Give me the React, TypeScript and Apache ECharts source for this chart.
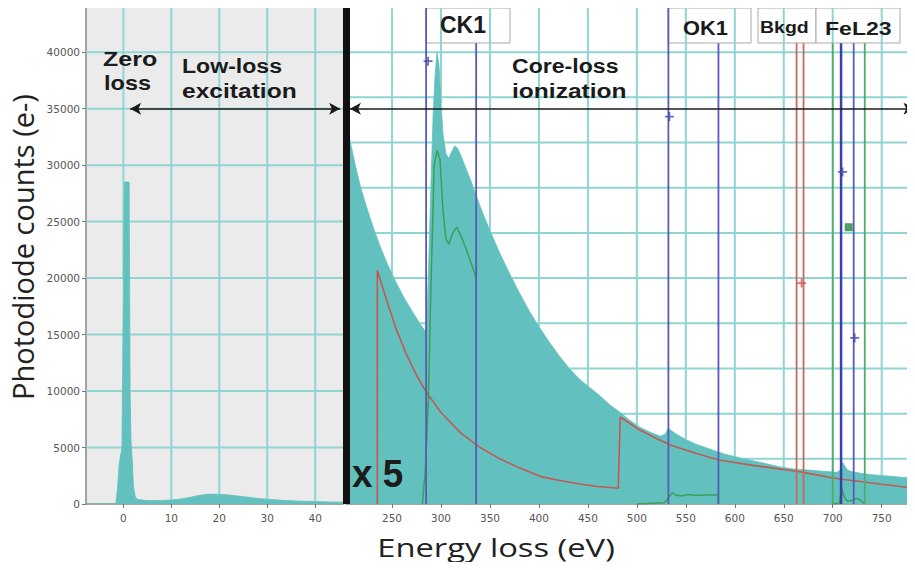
import React, { useEffect, useRef } from "react";
import * as echarts from "echarts";

// ---------------- data ----------------
const LOW_LOSS_EV = [-7.8, -1.6, -1.2, -0.9, -0.3, 0.0, 0.2, 1.2, 1.4, 1.6, 1.9, 2.1, 2.5, 3.0, 5, 8, 10, 12, 14, 16, 18, 20, 22, 24, 27, 30, 33, 36, 40, 43, 45.8];
const LOW_LOSS_COUNTS = [0, 0, 1500, 3500, 5000, 20000, 28500, 28500, 10000, 5500, 3500, 1500, 600, 400, 300, 320, 350, 450, 600, 780, 880, 860, 800, 700, 550, 420, 330, 270, 220, 180, 160];

const CORE_EV = [203, 208, 213, 218, 224, 230, 237, 245, 253, 262, 271, 279, 284, 286, 288, 290, 292, 294, 296, 298, 300, 302, 305, 308, 311, 314, 317, 321, 326, 331, 336, 342, 350, 360, 370, 380, 390, 400, 410, 420, 431, 442, 452, 462, 472, 483, 493, 503, 515, 524, 529, 532, 535, 540, 550, 560, 570, 580, 590, 600, 615, 630, 645, 660, 675, 690, 704, 708, 710, 712, 715, 720, 730, 745, 760, 772, 784];
const CORE_COUNTS = [33800, 31800, 29800, 28000, 26300, 24700, 23000, 21300, 19800, 18300, 17000, 15900, 15300, 17500, 23000, 29000, 34500, 38000, 40000, 38800, 35500, 32800, 31000, 30600, 31200, 31700, 31500, 30700, 29600, 28500, 27300, 25900, 24200, 22200, 20400, 18700, 17100, 15700, 14400, 13200, 12000, 11000, 10300, 9600, 8800, 8100, 7400, 6800, 6300, 6000, 6200, 6700, 6500, 6200, 5700, 5300, 5000, 4700, 4400, 4200, 3900, 3600, 3300, 3100, 3000, 2900, 2800, 3000, 3700, 3400, 3000, 2850, 2700, 2550, 2450, 2350, 2300];

const BKGD_EV = [235, 235, 245, 255, 265, 275, 285, 300, 320, 340, 360, 380, 403, 420, 440, 460, 481, 483, 503, 520, 535, 560, 584, 620, 663, 670, 700, 718, 750, 784];
const BKGD_COUNTS = [0, 20700, 17900, 15300, 13200, 11400, 9900, 8100, 6300, 5000, 4000, 3200, 2400, 2100, 1800, 1550, 1400, 7700, 6550, 5800, 5200, 4500, 3900, 3400, 2900, 2800, 2300, 2100, 1750, 1400];

const CK_SIGNAL_EV = [281, 284, 287, 290, 293, 296, 299, 302, 305, 308, 312, 316, 320, 326, 332, 336, 336];
const CK_SIGNAL_COUNTS = [0, 3000, 9000, 20000, 30000, 31300, 30500, 26000, 23500, 23000, 24000, 24500, 23800, 22500, 21000, 20000, 0];

const OK_SIGNAL_EV = [500, 528, 531, 536, 540, 545, 552, 560, 570, 583, 583.3];
const OK_SIGNAL_COUNTS = [0, 100, 400, 1000, 800, 700, 850, 750, 800, 800, 0];

const FE_SIGNAL_EV = [700, 707, 709, 711, 714, 718, 724, 728, 732.7];
const FE_SIGNAL_COUNTS = [0, 100, 1500, 800, 300, 250, 500, 350, 0];

// integration windows (eV), their top value and colour family
const WINDOW_EV = [284.8, 335.9, 532.2, 583.3, 663.1, 670.2, 700, 708.5, 721.4, 732.7];
const WINDOW_TOP = [44000, 40800, 44000, 40800, 40800, 40800, 40800, 40800, 40800, 40800];
const WINDOW_KIND = ["blue", "blue", "blue", "blue", "red", "red", "green", "navy", "blue", "green"];

const BLUE_MARK_EV = [286.8, 533.2, 710, 722.4];
const BLUE_MARK_COUNTS = [39200, 34300, 29400, 14700];
const RED_MARK_EV = [668.2];
const RED_MARK_COUNTS = [19560];
const GREEN_MARK_EV = [716.3];
const GREEN_MARK_COUNTS = [24500];

// grid (tick) values of both panels
const LEFT_X_GRID = [0, 10, 20, 30, 40];
const LEFT_Y_GRID = [5000, 10000, 15000, 20000, 25000, 30000, 35000, 40000];
const RIGHT_X_GRID = [250, 300, 350, 400, 450, 500, 550, 600, 650, 700, 750];
const RIGHT_Y_GRID = [4000, 8000, 12000, 16000, 20000, 24000, 28000, 32000, 36000, 40000, 44000];

const LEFT_X = [-7.8, 45.8];
const RIGHT_X = [203, 784];
const Y_MAX = 44000;
const ARROW_Y = 35000;
const LEFT_ARROW_EV = [1.4, 45.2];
const RIGHT_ARROW_EV = [207, 783.5];

// ---------------- styles ----------------
const TEAL = "#62c1bf";
const GRID_TEAL = "#8fd5d3";
const RED = "#c05a52";
const GREEN = "#3c9f55";
const COLORS: Record<string, string> = { blue: "#5a5ab8", navy: "#3b3fa6", red: "#c8685e", green: "#52ac68" };

const zip = (a: number[], b: number[]) => a.map((v, i) => [v, b[i]]);

// spectrum height under a grid line (grid lines are only drawn above the fill)
function heightAt(ev: number[], counts: number[], x: number) {
  for (let i = 0; i < ev.length - 1; i++) {
    if (x >= ev[i] && x <= ev[i + 1]) {
      const span = ev[i + 1] - ev[i];
      const t = span === 0 ? 1 : (x - ev[i]) / span;
      return counts[i] + t * (counts[i + 1] - counts[i]);
    }
  }
  return 0;
}

function spansAbove(ev: number[], counts: number[], h: number) {
  const spans: number[][] = [];
  let start: number | null = counts[0] < h ? ev[0] : null;
  for (let i = 0; i < ev.length - 1; i++) {
    const a = counts[i];
    const b = counts[i + 1];
    if (a < h !== b < h) {
      const x = ev[i] + ((h - a) / (b - a)) * (ev[i + 1] - ev[i]);
      if (a < h) {
        if (start !== null) spans.push([start, x]);
        start = null;
      } else {
        start = x;
      }
    }
  }
  if (start !== null) spans.push([start, ev[ev.length - 1]]);
  return spans;
}

function boldText(text: string, x: number, baseline: number, size: number, scaleX: number) {
  return {
    type: "text",
    x,
    y: baseline - 0.3465 * size,
    scaleX,
    z: 20,
    style: {
      text,
      font: `bold ${size}px "Liberation Sans", Arial, sans-serif`,
      fill: "#1b1b1b",
      align: "left",
      verticalAlign: "middle",
    },
  };
}

function box(x1: number, x2: number) {
  return {
    type: "rect",
    z: 1,
    shape: { x: x1, y: 8, width: x2 - x1, height: 35 },
    style: { fill: "#ffffff", stroke: "#a9a9a9", lineWidth: 1 },
  };
}

// grid lines at the tick values, only in the part of the panel above the spectrum
function gridSeries(axis: number, ev: number[], counts: number[], xs: number[], ys: number[]) {
  return {
    type: "custom",
    xAxisIndex: axis,
    yAxisIndex: axis,
    data: [[ev[0], 0]],
    clip: true,
    silent: true,
    z: 1,
    renderItem: (_p: any, api: any) => {
      const seg = (p: number[], q: number[]) => {
        const a = api.coord(p);
        const b = api.coord(q);
        return {
          type: "line",
          shape: { x1: a[0], y1: a[1], x2: b[0], y2: b[1] },
          style: { stroke: GRID_TEAL, lineWidth: 2 },
        };
      };
      const children: any[] = [];
      xs.forEach((v) => children.push(seg([v, heightAt(ev, counts, v)], [v, Y_MAX])));
      ys.forEach((h) => spansAbove(ev, counts, h).forEach((s) => children.push(seg([s[0], h], [s[1], h]))));
      return { type: "group", children };
    },
  };
}

// filled spectrum drawn as one polygon through the axis scales
function areaSeries(axis: number, ev: number[], counts: number[]) {
  return {
    type: "custom",
    xAxisIndex: axis,
    yAxisIndex: axis,
    data: [[ev[0], 0]],
    clip: true,
    silent: true,
    z: 2,
    renderItem: (_params: any, api: any) => {
      const pts = ev.map((e, i) => api.coord([e, counts[i]]));
      pts.push(api.coord([ev[ev.length - 1], 0]));
      pts.push(api.coord([ev[0], 0]));
      return {
        type: "polygon",
        shape: { points: pts },
        style: { fill: TEAL, stroke: TEAL, lineWidth: 0.8, opacity: 1 },
      };
    },
  };
}

export default function App() {
  const ref = useRef<HTMLDivElement>(null);
  useEffect(() => {
    if (!ref.current) return;
    const chart = echarts.init(ref.current, undefined, { renderer: "svg" });

    const axisLabelStyle = {
      color: "#555",
      fontSize: 10.5,
      fontFamily: "DejaVu Sans",
      formatter: (v: number) => String(v),
    };

    const windowSeries = WINDOW_EV.map((ev, i) => ({
      type: "line",
      xAxisIndex: 1,
      yAxisIndex: 1,
      data: [[ev, 0], [ev, WINDOW_TOP[i]]],
      symbol: "none",
      lineStyle: { color: COLORS[WINDOW_KIND[i]], width: WINDOW_KIND[i] === "navy" ? 2.5 : 1.8 },
      z: 4,
      silent: true,
    }));

    const arrowSeries = (axis: number, a: number, b: number) => ({
      type: "line",
      xAxisIndex: axis,
      yAxisIndex: axis,
      data: [],
      symbol: "none",
      silent: true,
      z: 5,
      markLine: {
        silent: true,
        symbol: ["arrow", "arrow"],
        symbolSize: [9, 11],
        label: { show: false },
        lineStyle: { color: "#1a1a1a", width: 1.5, type: "solid" },
        data: [[{ coord: [a, ARROW_Y] }, { coord: [b, ARROW_Y] }]],
      },
    });

    const xAxisBase = {
      type: "value",
      axisLine: { show: true, onZero: false, lineStyle: { color: "#888", width: 1.5 } },
      axisTick: { show: true, length: 4, lineStyle: { color: "#777" } },
      axisLabel: { ...axisLabelStyle, margin: 8, showMinLabel: false, showMaxLabel: false },
      splitLine: { show: false },
    };

    const option: any = {
      animation: false,
      backgroundColor: "#ffffff",
      grid: [
        { left: 86, top: 7, width: 257, height: 497, show: true, backgroundColor: "#ebebeb", borderWidth: 0 },
        { left: 346, top: 7, width: 569, height: 497, show: false },
      ],
      xAxis: [
        { ...xAxisBase, gridIndex: 0, min: LEFT_X[0], max: LEFT_X[1], splitNumber: 5 },
        { ...xAxisBase, gridIndex: 1, min: RIGHT_X[0], max: RIGHT_X[1], splitNumber: 12 },
      ],
      yAxis: [
        {
          type: "value",
          gridIndex: 0,
          min: 0,
          max: Y_MAX,
          interval: 5000,
          axisLine: { show: true, onZero: false, lineStyle: { color: "#888", width: 1.5 } },
          axisTick: { show: true, length: 4, lineStyle: { color: "#777" } },
          axisLabel: { ...axisLabelStyle, margin: 6, showMaxLabel: false },
          splitLine: { show: false },
        },
        {
          type: "value",
          gridIndex: 1,
          min: 0,
          max: Y_MAX,
          interval: 4000,
          axisLine: { show: false, onZero: false },
          axisTick: { show: false },
          axisLabel: { show: false },
          splitLine: { show: false },
        },
      ],
      series: [
        gridSeries(0, LOW_LOSS_EV, LOW_LOSS_COUNTS, LEFT_X_GRID, LEFT_Y_GRID),
        gridSeries(1, CORE_EV, CORE_COUNTS, RIGHT_X_GRID, RIGHT_Y_GRID),
        areaSeries(0, LOW_LOSS_EV, LOW_LOSS_COUNTS),
        areaSeries(1, CORE_EV, CORE_COUNTS),
        arrowSeries(0, LEFT_ARROW_EV[0], LEFT_ARROW_EV[1]),
        arrowSeries(1, RIGHT_ARROW_EV[0], RIGHT_ARROW_EV[1]),
        {
          type: "line",
          name: "background",
          xAxisIndex: 1,
          yAxisIndex: 1,
          data: zip(BKGD_EV, BKGD_COUNTS),
          symbol: "none",
          lineStyle: { color: RED, width: 1.6 },
          z: 3,
        },
        ...[
          zip(CK_SIGNAL_EV, CK_SIGNAL_COUNTS),
          zip(OK_SIGNAL_EV, OK_SIGNAL_COUNTS),
          zip(FE_SIGNAL_EV, FE_SIGNAL_COUNTS),
        ].map((d) => ({
          type: "line",
          xAxisIndex: 1,
          yAxisIndex: 1,
          data: d,
          symbol: "none",
          lineStyle: { color: GREEN, width: 1.5 },
          z: 3,
        })),
        ...windowSeries,
        {
          type: "scatter",
          xAxisIndex: 1,
          yAxisIndex: 1,
          data: zip(BLUE_MARK_EV, BLUE_MARK_COUNTS),
          symbol: "path://M4 0H6V4H10V6H6V10H4V6H0V4H4Z",
          symbolSize: 9,
          itemStyle: { color: "#4444aa" },
          z: 6,
        },
        {
          type: "scatter",
          xAxisIndex: 1,
          yAxisIndex: 1,
          data: zip(RED_MARK_EV, RED_MARK_COUNTS),
          symbol: "path://M4 0H6V4H10V6H6V10H4V6H0V4H4Z",
          symbolSize: 9,
          itemStyle: { color: "#d24848" },
          z: 6,
        },
        {
          type: "scatter",
          xAxisIndex: 1,
          yAxisIndex: 1,
          data: zip(GREEN_MARK_EV, GREEN_MARK_COUNTS),
          symbol: "rect",
          symbolSize: 8,
          itemStyle: { color: "#1f8a3c" },
          z: 6,
        },
      ],
      graphic: [
        box(426, 510),
        box(668, 751),
        box(758, 816),
        box(816, 900),
        {
          type: "rect",
          z: 15,
          shape: { x: 343, y: 7, width: 7, height: 497 },
          style: { fill: "#111" },
        },
        boldText("CK1", 440, 33, 23, 1.0),
        boldText("OK1", 683, 35, 21, 1.04),
        boldText("Bkgd", 760, 33.3, 16, 1.22),
        boldText("FeL23", 825, 35, 18.6, 1.24),
        boldText("Zero", 103, 66, 21, 1.19),
        boldText("loss", 104, 90, 21, 1.12),
        boldText("Low-loss", 182, 73, 21, 1.1),
        boldText("excitation", 182, 98, 21, 1.17),
        boldText("Core-loss", 512, 73, 21, 1.1),
        boldText("ionization", 512, 98, 21, 1.17),
        boldText("x 5", 352, 487, 38, 0.97),
        {
          type: "text",
          x: 22,
          y: 247,
          rotation: Math.PI / 2,
          z: 20,
          style: {
            text: "Photodiode counts (e-)",
            font: '29px "Open Sans", sans-serif',
            fill: "#222",
            align: "center",
            verticalAlign: "middle",
          },
        },
        {
          type: "text",
          x: 496,
          y: 557 - 0.388 * 25,
          scaleX: 1.31,
          z: 20,
          style: {
            text: "Energy loss (eV)",
            font: '25px "Open Sans", sans-serif',
            fill: "#222",
            align: "center",
            verticalAlign: "middle",
          },
        },
      ],
    };

    chart.setOption(option);
    return () => chart.dispose();
  }, []);

  return <div ref={ref} style={{ width: 915, height: 570, margin: -8 }} />;
}
